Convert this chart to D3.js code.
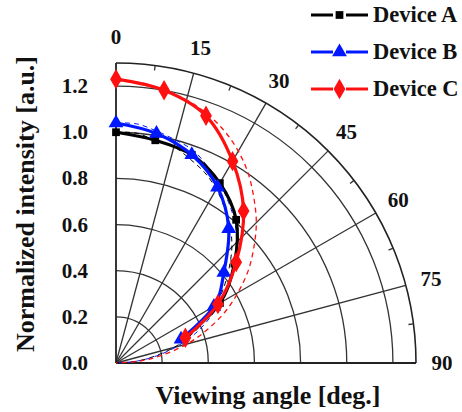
<!DOCTYPE html>
<html>
<head>
<meta charset="utf-8">
<script src="https://cdn.jsdelivr.net/npm/d3@7"></script>
<style>
  body { margin: 0; background: #fff; }
  text { font-family: "Liberation Serif", "Times New Roman", serif; font-weight: bold; fill: #111; }
</style>
</head>
<body>
<svg id="chart" width="462" height="412"></svg>
<script>
// measured points (viewing angle in degrees, intensity normalised)
var angles = [0, 10, 20, 30, 40, 50, 60, 70];
var deviceA = [1.00, 0.98, 0.96, 0.90, 0.81, 0.67, 0.52, 0.31];
var deviceB = [1.04, 1.01, 0.96, 0.88, 0.76, 0.61, 0.49, 0.30];
var deviceC = [1.23, 1.20, 1.14, 1.01, 0.86, 0.68, 0.51, 0.32];

// lambertian reference curves (dashed)
var lambAngles = [0, 5, 10, 15, 20, 25, 30, 35, 40, 45, 50, 55, 60, 65, 70, 75, 80, 85, 90];
var lambA = [1.00, 1.00, 0.98, 0.97, 0.94, 0.91, 0.87, 0.82, 0.77, 0.71, 0.64, 0.57, 0.50, 0.42, 0.34, 0.26, 0.17, 0.09, 0];
var lambB = [1.04, 1.04, 1.02, 1.00, 0.98, 0.94, 0.90, 0.85, 0.80, 0.74, 0.67, 0.60, 0.52, 0.44, 0.36, 0.27, 0.18, 0.09, 0];
var lambC = [1.22, 1.22, 1.20, 1.18, 1.15, 1.11, 1.06, 1.00, 0.93, 0.86, 0.78, 0.70, 0.61, 0.52, 0.42, 0.32, 0.21, 0.11, 0];

var ringValues = [0.2, 0.4, 0.6, 0.8, 1.0, 1.2];
var radialLabels = ['0.0', '0.2', '0.4', '0.6', '0.8', '1.0', '1.2'];
var spokeAngles = [15, 30, 45, 60, 75];
var angleLabels = [0, 15, 30, 45, 60, 75, 90];
var minorTicks = [7.5, 22.5, 37.5, 52.5, 67.5, 82.5];
var rMax = 1.3;

var svg = d3.select('#chart');
var cx = 116, cy = 363, outer = 300;

var r = d3.scaleLinear().domain([0, rMax]).range([0, outer]);
var a = d3.scaleLinear().domain([0, 90]).range([0, Math.PI / 2]);

var g = svg.append('g').attr('transform', 'translate(' + cx + ',' + cy + ')');

function pt(deg, rad) {
    return [rad * Math.sin(a(deg)), -rad * Math.cos(a(deg))];
}

var arcGen = d3.arc().startAngle(0).endAngle(Math.PI / 2);

// rings
g.selectAll('.ring').data(ringValues).enter().append('path')
    .attr('d', function(d) { return arcGen({innerRadius: r(d), outerRadius: r(d)}); })
    .attr('fill', 'none').attr('stroke', '#333').attr('stroke-width', 1.3);

// spokes
g.selectAll('.spoke').data(spokeAngles).enter().append('line')
    .attr('x1', 0).attr('y1', 0)
    .attr('x2', function(d) { return pt(d, r(rMax))[0]; })
    .attr('y2', function(d) { return pt(d, r(rMax))[1]; })
    .attr('stroke', '#333').attr('stroke-width', 1.3);

// outer arc + axes
g.append('path').attr('d', arcGen({innerRadius: r(rMax), outerRadius: r(rMax)}))
    .attr('fill', 'none').attr('stroke', '#222').attr('stroke-width', 1.6);
g.append('line').attr('x1', 0).attr('y1', 0).attr('x2', 0).attr('y2', -r(rMax))
    .attr('stroke', '#222').attr('stroke-width', 1.8);
g.append('line').attr('x1', 0).attr('y1', 0).attr('x2', r(rMax)).attr('y2', 0)
    .attr('stroke', '#222').attr('stroke-width', 1.8);

// minor ticks on the outer arc
g.selectAll('.minor').data(minorTicks).enter().append('line')
    .attr('x1', function(d) { return pt(d, r(rMax))[0]; })
    .attr('y1', function(d) { return pt(d, r(rMax))[1]; })
    .attr('x2', function(d) { return pt(d, r(rMax) - 5)[0]; })
    .attr('y2', function(d) { return pt(d, r(rMax) - 5)[1]; })
    .attr('stroke', '#333').attr('stroke-width', 1.3);

// radial tick labels on left
g.selectAll('.rlab').data(radialLabels).enter().append('text')
    .attr('x', -28)
    .attr('y', function(d) { return -r(+d); })
    .attr('text-anchor', 'end').attr('dominant-baseline', 'central')
    .style('font-size', '21px')
    .text(function(d) { return d; });

// angle labels
g.selectAll('.alab').data(angleLabels).enter().append('text')
    .attr('x', function(d) { return pt(d, r(rMax) + 26)[0]; })
    .attr('y', function(d) { return pt(d, r(rMax) + 26)[1]; })
    .attr('text-anchor', 'middle').attr('dominant-baseline', 'central')
    .style('font-size', '21px')
    .text(function(d) { return d; });

// axis titles
svg.append('text').attr('x', 268).attr('y', 404).attr('text-anchor', 'middle')
    .style('font-size', '26px').text('Viewing angle [deg.]');
svg.append('text').attr('transform', 'translate(34,204) rotate(-90)').attr('text-anchor', 'middle')
    .style('font-size', '26px').text('Normalized intensity [a.u.]');

var line = d3.lineRadial().curve(d3.curveCardinal)
    .angle(function(d) { return a(d[0]); })
    .radius(function(d) { return r(d[1]); });

var series = [
    {name: 'Device A', color: '#000', values: deviceA, lamb: lambA, dashW: 1, symbol: d3.symbolSquare, size: 60},
    {name: 'Device B', color: '#0018ff', values: deviceB, lamb: lambB, dashW: 1, symbol: d3.symbolTriangle, size: 95},
    {name: 'Device C', color: '#ff1010', values: deviceC, lamb: lambC, dashW: 1.3, symbol: d3.symbolDiamond, size: 120}
];

series.forEach(function(s) {
    g.append('path').datum(d3.zip(lambAngles, s.lamb)).attr('d', line)
        .attr('fill', 'none').attr('stroke', s.color).attr('stroke-width', s.dashW)
        .attr('stroke-dasharray', '5,4');
});

series.forEach(function(s) {
    var pts = d3.zip(angles, s.values);
    g.append('path').datum(pts).attr('d', line)
        .attr('fill', 'none').attr('stroke', s.color).attr('stroke-width', 3.2);
    g.selectAll(null).data(pts).enter().append('path')
        .attr('d', d3.symbol().type(s.symbol).size(s.size))
        .attr('transform', function(d) { var p = pt(d[0], r(d[1])); return 'translate(' + p[0] + ',' + p[1] + ')'; })
        .attr('fill', s.color);
});

// legend
var leg = svg.selectAll('.leg').data(series).enter().append('g')
    .attr('transform', function(d, i) { return 'translate(311,' + (15 + 37 * i) + ')'; });
leg.append('line').attr('x1', 0).attr('x2', 22).attr('y1', 0).attr('y2', 0)
    .attr('stroke', function(d) { return d.color; }).attr('stroke-width', 3);
leg.append('line').attr('x1', 35).attr('x2', 57).attr('y1', 0).attr('y2', 0)
    .attr('stroke', function(d) { return d.color; }).attr('stroke-width', 3);
leg.append('path').attr('transform', 'translate(28.5,0)')
    .attr('d', function(d) { return d3.symbol().type(d.symbol).size(d.size)(); })
    .attr('fill', function(d) { return d.color; });
leg.append('text').attr('x', 62).attr('y', 7).style('font-size', '22.5px')
    .text(function(d) { return d.name; });
</script>
</body>
</html>
